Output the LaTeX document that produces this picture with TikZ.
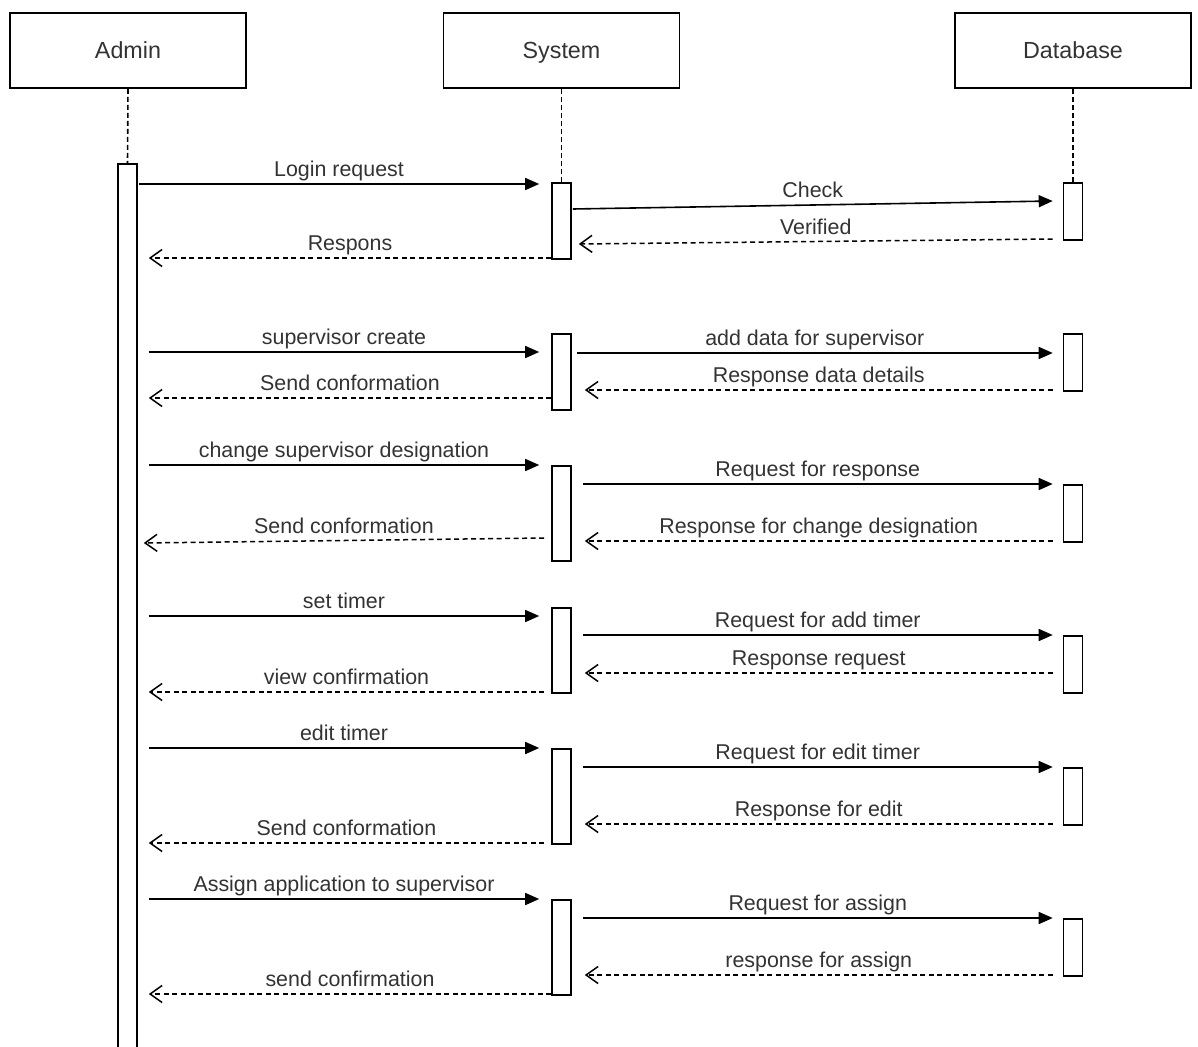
\documentclass[tikz,border=0pt]{standalone}
\usepackage{fontspec}
\setmainfont{Liberation Sans}
\usetikzlibrary{arrows.meta,calc}
\definecolor{txt}{HTML}{333333}
\begin{document}
\begin{tikzpicture}[x=1pt,y=-1pt,
  head/.style={draw=black,line width=1.8pt,minimum width=236pt,minimum height=75pt,inner sep=0pt,text height=16.8pt,text depth=0pt,font=\fontsize{23.3}{27}\selectfont,text=txt},
  actbar/.style={draw=black,line width=1.6pt,minimum width=19pt,inner sep=0pt,anchor=north,fill=white},
  life/.style={line width=1.6pt,dash pattern=on 5pt off 3pt},
  call/.style={line width=1.6pt,-{Triangle[length=14pt,width=12pt]}},
  ret/.style={line width=1.5pt,dash pattern=on 5pt off 3.5pt,-{Straight Barb[length=12pt,width=17pt]}},
  lbl/.style={anchor=base,yshift=7.5pt,font=\fontsize{21.4}{25}\selectfont,text=txt,inner sep=0pt},
]
\clip (0,0) rectangle (1198,1046);
\fill[white] (0,0) rectangle (1198,1046);

% heads
\node[head] (admin) at (128,50.5) {Admin};
\node[head] (system) at (561.5,50.5) {System};
\node[head] (db) at (1073,50.5) {Database};

% activation bars
\node[actbar,minimum height=900pt] (abar) at (127.5,163) {};
\node[actbar,minimum height=76pt] (s1) at (561.5,182) {};
\node[actbar,minimum height=76pt] (s2) at (561.5,333) {};
\node[actbar,minimum height=95pt] (s3) at (561.5,465) {};
\node[actbar,minimum height=85pt] (s4) at (561.5,607) {};
\node[actbar,minimum height=95pt] (s5) at (561.5,748) {};
\node[actbar,minimum height=95pt] (s6) at (561.5,899) {};
\node[actbar,minimum height=57pt] (d1) at (1073,182) {};
\node[actbar,minimum height=57pt] (d2) at (1073,333) {};
\node[actbar,minimum height=57pt] (d3) at (1073,484) {};
\node[actbar,minimum height=57pt] (d4) at (1073,635) {};
\node[actbar,minimum height=57pt] (d5) at (1073,767) {};
\node[actbar,minimum height=57pt] (d6) at (1073,918) {};

% lifelines
\draw[life] (admin.south) -- (abar.north);
\draw[life] (system.south) -- (s1.north);
\draw[life] (db.south) -- (d1.north);

% block 1
\draw[call] ($(abar.east|-0,184)+(1,0)$) -- ($(s1.west|-0,184)+(-12,0)$) node[lbl,midway] {Login request};
\draw[call] ($(s1.east|-0,209)+(1,0)$) -- ($(d1.west|-0,201)+(-10,0)$) node[lbl,midway] {Check};
\draw[ret] ($(d1.west|-0,239)+(-10,0)$) -- ($(s1.east|-0,244)+(7,0)$) node[lbl,midway] {Verified};
\draw[ret] (s1.west|-0,258) -- ($(abar.east|-0,258)+(11,0)$) node[lbl,midway] {Respons};

% block 2
\draw[call] ($(abar.east|-0,352)+(11,0)$) -- ($(s2.west|-0,352)+(-12,0)$) node[lbl,midway] {supervisor create};
\draw[call] ($(s2.east|-0,353)+(5,0)$) -- ($(d2.west|-0,353)+(-10,0)$) node[lbl,midway] {add data for supervisor};
\draw[ret] ($(d2.west|-0,390)+(-10,0)$) -- ($(s2.east|-0,390)+(13,0)$) node[lbl,midway] {Response data details};
\draw[ret] (s2.west|-0,398) -- ($(abar.east|-0,398)+(11,0)$) node[lbl,midway] {Send conformation};

% block 3
\draw[call] ($(abar.east|-0,465)+(11,0)$) -- ($(s3.west|-0,465)+(-12,0)$) node[lbl,midway] {change supervisor designation};
\draw[call] ($(s3.east|-0,484)+(11,0)$) -- ($(d3.west|-0,484)+(-10,0)$) node[lbl,midway] {Request for response};
\draw[ret] ($(d3.west|-0,541)+(-10,0)$) -- ($(s3.east|-0,541)+(13,0)$) node[lbl,midway] {Response for change designation};
\draw[ret] ($(s3.west|-0,538)+(-7,0)$) -- ($(abar.east|-0,543)+(6,0)$) node[lbl,midway] {Send conformation};

% block 4
\draw[call] ($(abar.east|-0,616)+(11,0)$) -- ($(s4.west|-0,616)+(-12,0)$) node[lbl,midway] {set timer};
\draw[call] ($(s4.east|-0,635)+(11,0)$) -- ($(d4.west|-0,635)+(-10,0)$) node[lbl,midway] {Request for add timer};
\draw[ret] ($(d4.west|-0,673)+(-10,0)$) -- ($(s4.east|-0,673)+(13,0)$) node[lbl,midway] {Response request};
\draw[ret] ($(s4.west|-0,692)+(-7,0)$) -- ($(abar.east|-0,692)+(11,0)$) node[lbl,midway] {view confirmation};

% block 5
\draw[call] ($(abar.east|-0,748)+(11,0)$) -- ($(s5.west|-0,748)+(-12,0)$) node[lbl,midway] {edit timer};
\draw[call] ($(s5.east|-0,767)+(11,0)$) -- ($(d5.west|-0,767)+(-10,0)$) node[lbl,midway] {Request for edit timer};
\draw[ret] ($(d5.west|-0,824)+(-10,0)$) -- ($(s5.east|-0,824)+(13,0)$) node[lbl,midway] {Response for edit};
\draw[ret] ($(s5.west|-0,843)+(-7,0)$) -- ($(abar.east|-0,843)+(11,0)$) node[lbl,midway] {Send conformation};

% block 6
\draw[call] ($(abar.east|-0,899)+(11,0)$) -- ($(s6.west|-0,899)+(-12,0)$) node[lbl,midway] {Assign application to supervisor};
\draw[call] ($(s6.east|-0,918)+(11,0)$) -- ($(d6.west|-0,918)+(-10,0)$) node[lbl,midway] {Request for assign};
\draw[ret] ($(d6.west|-0,975)+(-10,0)$) -- ($(s6.east|-0,975)+(13,0)$) node[lbl,midway] {response for assign};
\draw[ret] (s6.west|-0,994) -- ($(abar.east|-0,994)+(11,0)$) node[lbl,midway] {send confirmation};
\end{tikzpicture}
\end{document}
